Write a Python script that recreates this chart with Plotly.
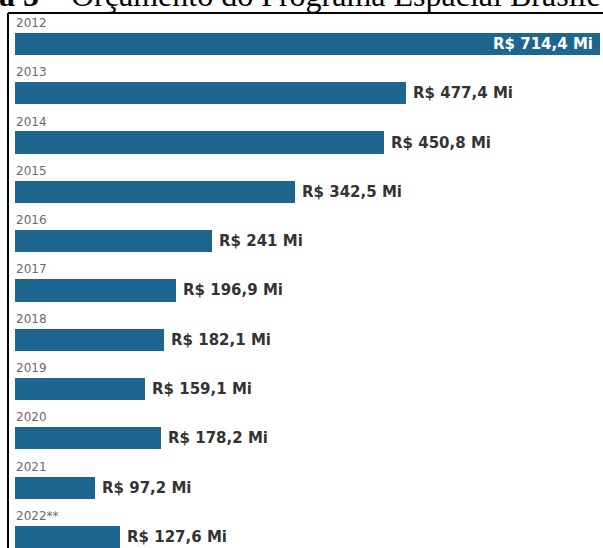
import plotly.graph_objects as go

years = ["2012", "2013", "2014", "2015", "2016", "2017", "2018", "2019", "2020", "2021", "2022**"]
values = [714.4, 477.4, 450.8, 342.5, 241.0, 196.9, 182.1, 159.1, 178.2, 97.2, 127.6]
value_labels = ["R$ 714,4 Mi", "R$ 477,4 Mi", "R$ 450,8 Mi", "R$ 342,5 Mi", "R$ 241 Mi",
                "R$ 196,9 Mi", "R$ 182,1 Mi", "R$ 159,1 Mi", "R$ 178,2 Mi", "R$ 97,2 Mi",
                "R$ 127,6 Mi"]
title_text = "<b>a 5</b> – Orçamento do Programa Espacial Brasile"

W, H = 603, 548
BAR_COLOR = "#1d6690"

fig = go.Figure()
fig.add_trace(go.Bar(
    y=years, x=values, orientation="h",
    marker=dict(color=BAR_COLOR, line=dict(width=0)),
    width=0.45, hoverinfo="skip",
))

annotations = []
for i, (yr, v, lab) in enumerate(zip(years, values, value_labels)):
    annotations.append(dict(
        x=0, y=i, xref="x", yref="y", text=yr, showarrow=False,
        xanchor="left", yanchor="middle", xshift=-1, yshift=21,
        font=dict(family="DejaVu Sans", size=12, color="#6a6a6a"),
    ))
    if i == 0:
        annotations.append(dict(
            x=v, y=i, xref="x", yref="y", text="<b>" + lab + "</b>", showarrow=False,
            xanchor="right", yanchor="middle", xshift=-5,
            font=dict(family="DejaVu Sans", size=15, color="white"),
        ))
    else:
        annotations.append(dict(
            x=v, y=i, xref="x", yref="y", text="<b>" + lab + "</b>", showarrow=False,
            xanchor="left", yanchor="middle", xshift=5,
            font=dict(family="DejaVu Sans", size=15, color="#333333"),
        ))

annotations.append(dict(
    x=0, y=1 - 15 / H, xref="paper", yref="paper", text=title_text, showarrow=False,
    xanchor="left", yanchor="bottom", xshift=-3,
    font=dict(family="Liberation Serif", size=32, color="black"),
))

fig.update_layout(
    width=W, height=H, margin=dict(l=0, r=0, t=0, b=0),
    paper_bgcolor="white", plot_bgcolor="white", showlegend=False,
    bargap=0,
    xaxis=dict(range=[-18.32, 718.0], visible=False, fixedrange=True),
    yaxis=dict(type="category", categoryorder="array", categoryarray=years,
               range=[10.224, -0.892], visible=False, fixedrange=True),
    annotations=annotations,
    shapes=[
        dict(type="line", xref="paper", yref="paper", x0=8 / W, x1=1, y0=1 - 13 / H, y1=1 - 13 / H,
             line=dict(color="black", width=2)),
        dict(type="line", xref="paper", yref="paper", x0=8 / W, x1=8 / W, y0=0, y1=1 - 13 / H,
             line=dict(color="black", width=2)),
    ],
)

fig.write_html("out.html", config={"displayModeBar": False},
               post_script="document.body.style.margin='0';document.body.style.overflow='hidden';")
